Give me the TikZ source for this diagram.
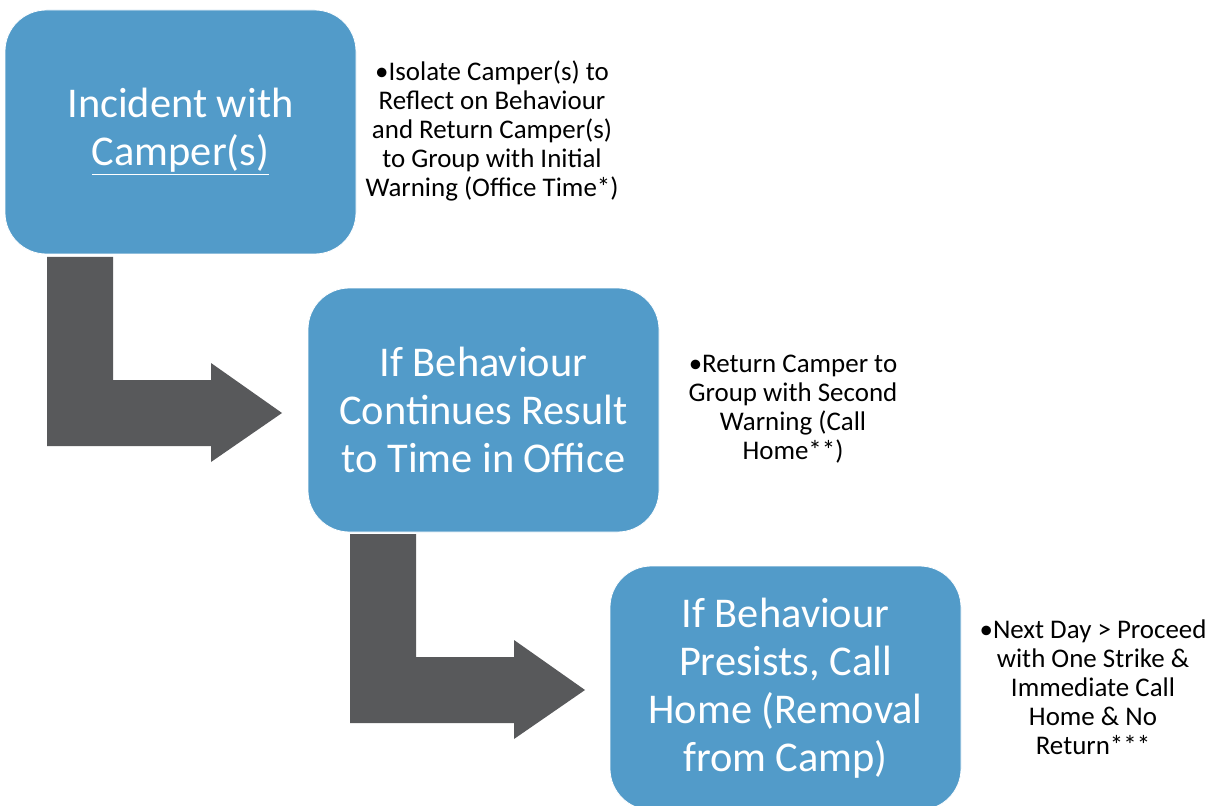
\documentclass[tikz,border=0pt]{standalone}
\usepackage{fontspec}
\setmainfont{Carlito}
\definecolor{stepblue}{HTML}{529BC9}
\definecolor{arrowgrey}{HTML}{58595B}
\newcommand{\lowrule}[1]{\underline{#1\vphantom{p}}}
\begin{document}
\begin{tikzpicture}[x=0.75pt,y=-0.75pt,
  stagebox/.style={rectangle, rounded corners=31pt, fill=stepblue, draw=white, line width=0.6pt,
    minimum width=263.25pt, minimum height=183pt, inner sep=0pt, align=center,
    text=white, font=\fontsize{31.8pt}{36pt}\selectfont},
  notetext/.style={align=center, inner sep=0pt, text=black,
    font=\fontsize{20.2pt}{21.8pt}\selectfont},
  bentarrow/.style={fill=arrowgrey}]
  \clip (0,0) rectangle (1211,806);
  \fill[white] (0,0) rectangle (1211,806);

  % stage boxes
  \node[stagebox] (s1) at (180.5,132) {Incident with\\\lowrule{Camper(s)}};
  \node[stagebox] (s2) at (483.5,410) {If Behaviour\\Continues Result\\to Time in Office};
  \node[stagebox] (s3) at (785.5,688) {If Behaviour\\Presists, Call\\Home (Removal\\from Camp)};

  % notes beside each stage
  \node[notetext] (n1) at (492,131) {•Isolate Camper(s) to\\Reflect on Behaviour\\and Return Camper(s)\\to Group with Initial\\Warning (Office Time*)};
  \node[notetext] (n2) at (793,409) {•Return Camper to\\Group with Second\\Warning (Call\\Home**)};
  \node[notetext] (n3) at (1093,687) {•Next Day > Proceed\\with One Strike \&\\Immediate Call\\Home \& No\\Return***};

  % bent arrows between stages
  \foreach \dx/\dy in {0/0, 303/277} {
    \fill[bentarrow, shift={(\dx,\dy)}]
      (47,257) -- (113,257) -- (113,380) -- (211,380) -- (211,363) -- (282,413)
      -- (211,462) -- (211,446) -- (47,446) -- cycle;
  }
\end{tikzpicture}
\end{document}
